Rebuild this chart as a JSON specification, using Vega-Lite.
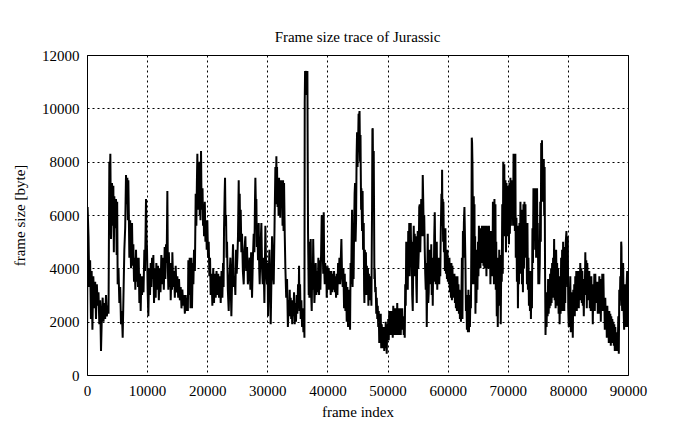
{
"$schema": "https://vega.github.io/schema/vega-lite/v6.json",
"width": 541, "height": 320,
"autosize": {"type": "none"},
"padding": {"left": 87, "top": 55, "right": 67, "bottom": 54},
"background": "white",
"title": {"text": "Frame size trace of Jurassic", "font": "Liberation Serif", "fontSize": 15, "fontWeight": "normal", "color": "black", "offset": 3},
"config": {
  "view": {"stroke": "black", "strokeWidth": 1},
  "axis": {"labelFont": "Liberation Serif", "labelFontSize": 15, "labelColor": "black", "titleFont": "Liberation Serif", "titleFontSize": 15, "titleFontWeight": "normal", "titleColor": "black", "domain": false, "ticks": false, "grid": true, "gridColor": "black", "gridDash": [2, 3], "gridOpacity": 1, "gridWidth": 1, "labelPadding": 8, "labelFlush": false}
},
"data": {"values": [
{"frame":0,"size":500},{"frame":100,"size":6300},{"frame":250,"size":5200},{"frame":388,"size":3300},{"frame":520,"size":4300},{"frame":650,"size":2100},{"frame":777,"size":3900},{"frame":900,"size":1700},{"frame":1050,"size":3700},{"frame":1220,"size":2500},{"frame":1360,"size":3500},{"frame":1498,"size":2100},{"frame":1640,"size":3400},{"frame":1775,"size":2600},{"frame":1910,"size":3100},{"frame":2052,"size":1900},{"frame":2190,"size":2800},{"frame":2330,"size":900},{"frame":2470,"size":2200},{"frame":2607,"size":2900},{"frame":2750,"size":2000},{"frame":2884,"size":2700},{"frame":3020,"size":2100},{"frame":3162,"size":3000},{"frame":3300,"size":2200},{"frame":3439,"size":2600},{"frame":3580,"size":2300},{"frame":3717,"size":8000},{"frame":3800,"size":7200},{"frame":3883,"size":8300},{"frame":3994,"size":5100},{"frame":4160,"size":7200},{"frame":4270,"size":5600},{"frame":4382,"size":7100},{"frame":4465,"size":4600},{"frame":4548,"size":6700},{"frame":4650,"size":5500},{"frame":4826,"size":6600},{"frame":4937,"size":4500},{"frame":5020,"size":6500},{"frame":5103,"size":3400},{"frame":5240,"size":4000},{"frame":5380,"size":2700},{"frame":5520,"size":3300},{"frame":5658,"size":1900},{"frame":5800,"size":2400},{"frame":5935,"size":1400},{"frame":6070,"size":3000},{"frame":6213,"size":4700},{"frame":6350,"size":5500},{"frame":6490,"size":7500},{"frame":6600,"size":6400},{"frame":6712,"size":7400},{"frame":6800,"size":5800},{"frame":6878,"size":7300},{"frame":6960,"size":6000},{"frame":7045,"size":4400},{"frame":7180,"size":5800},{"frame":7322,"size":4000},{"frame":7489,"size":5700},{"frame":7600,"size":4100},{"frame":7711,"size":4900},{"frame":7820,"size":3500},{"frame":7932,"size":4400},{"frame":8040,"size":3200},{"frame":8154,"size":4700},{"frame":8260,"size":3500},{"frame":8376,"size":4400},{"frame":8480,"size":3300},{"frame":8598,"size":4400},{"frame":8710,"size":2700},{"frame":8820,"size":3800},{"frame":8930,"size":2400},{"frame":9042,"size":3700},{"frame":9150,"size":3000},{"frame":9264,"size":3700},{"frame":9400,"size":3100},{"frame":9541,"size":4700},{"frame":9650,"size":3900},{"frame":9760,"size":5600},{"frame":9818,"size":6600},{"frame":9900,"size":5200},{"frame":9985,"size":4700},{"frame":10100,"size":3100},{"frame":10206,"size":2200},{"frame":10340,"size":4000},{"frame":10484,"size":3000},{"frame":10600,"size":4200},{"frame":10706,"size":3300},{"frame":10820,"size":4400},{"frame":10928,"size":3600},{"frame":11040,"size":4500},
{"frame":11149,"size":2700},{"frame":11315,"size":4000},{"frame":11426,"size":2900},{"frame":11537,"size":4200},{"frame":11680,"size":3200},{"frame":11815,"size":4100},{"frame":11950,"size":2800},{"frame":12092,"size":4000},{"frame":12230,"size":3100},{"frame":12369,"size":4500},{"frame":12500,"size":3400},{"frame":12647,"size":4400},{"frame":12780,"size":3200},{"frame":12924,"size":4800},{"frame":13040,"size":3600},{"frame":13146,"size":4900},{"frame":13250,"size":4200},{"frame":13368,"size":6900},{"frame":13450,"size":4000},{"frame":13534,"size":3200},{"frame":13620,"size":4600},{"frame":13750,"size":3300},{"frame":13850,"size":4200},{"frame":13923,"size":2800},{"frame":14060,"size":3900},{"frame":14140,"size":3200},{"frame":14200,"size":4600},{"frame":14340,"size":3300},{"frame":14477,"size":3900},{"frame":14610,"size":2900},{"frame":14755,"size":4100},{"frame":14890,"size":3100},{"frame":15032,"size":3700},{"frame":15170,"size":2900},{"frame":15309,"size":3600},{"frame":15450,"size":2800},{"frame":15587,"size":3300},{"frame":15720,"size":2500},{"frame":15864,"size":3200},{"frame":16000,"size":2600},{"frame":16141,"size":3000},{"frame":16280,"size":2300},{"frame":16419,"size":3000},{"frame":16550,"size":2400},{"frame":16696,"size":2900},{"frame":16780,"size":2400},{"frame":16862,"size":4300},{"frame":16970,"size":3000},{"frame":17084,"size":4400},{"frame":17220,"size":2500},{"frame":17362,"size":4400},{"frame":17470,"size":2500},{"frame":17590,"size":4200},{"frame":17700,"size":3400},{"frame":17805,"size":4700},{"frame":17950,"size":3900},{"frame":18083,"size":6800},{"frame":18194,"size":5600},{"frame":18280,"size":7200},{"frame":18360,"size":8300},{"frame":18450,"size":6200},{"frame":18527,"size":7200},{"frame":18610,"size":6500},{"frame":18693,"size":8000},{"frame":18750,"size":6000},{"frame":18804,"size":7500},{"frame":18880,"size":5800},{"frame":18970,"size":8400},{"frame":19050,"size":6500},{"frame":19137,"size":6200},{"frame":19220,"size":7000},{"frame":19303,"size":5600},{"frame":19390,"size":6400},{"frame":19470,"size":5200},{"frame":19600,"size":6500},{"frame":19700,"size":5000},{"frame":19830,"size":5800},{"frame":19913,"size":4700},{"frame":20020,"size":5800},{"frame":20135,"size":4400},{"frame":20250,"size":5000},{"frame":20357,"size":3700},{"frame":20470,"size":4400},{"frame":20579,"size":3000},{"frame":20720,"size":3800},{"frame":20856,"size":2600},{"frame":21000,"size":4000},{"frame":21133,"size":2700},{"frame":21270,"size":3800},{"frame":21411,"size":2900},{"frame":21550,"size":3900},{"frame":21688,"size":3000},{"frame":21830,"size":3800},{"frame":21965,"size":2900},{"frame":22100,"size":3700},{"frame":22243,"size":2700},{"frame":22380,"size":3900},
{"frame":22520,"size":2900},{"frame":22630,"size":4200},{"frame":22720,"size":3300},{"frame":22797,"size":5500},{"frame":22900,"size":6800},{"frame":22963,"size":7400},{"frame":23050,"size":5600},{"frame":23130,"size":6000},{"frame":23220,"size":4400},{"frame":23296,"size":5000},{"frame":23430,"size":3200},{"frame":23573,"size":2400},{"frame":23700,"size":3600},{"frame":23851,"size":4400},{"frame":23940,"size":3000},{"frame":24017,"size":2200},{"frame":24150,"size":3700},{"frame":24294,"size":4900},{"frame":24420,"size":3300},{"frame":24572,"size":3700},{"frame":24680,"size":3000},{"frame":24794,"size":4700},{"frame":24900,"size":3800},{"frame":25016,"size":4400},{"frame":25120,"size":5200},{"frame":25238,"size":7300},{"frame":25320,"size":5000},{"frame":25404,"size":6800},{"frame":25480,"size":5200},{"frame":25570,"size":6200},{"frame":25680,"size":4600},{"frame":25792,"size":5300},{"frame":25930,"size":3900},{"frame":26070,"size":3400},{"frame":26200,"size":4700},{"frame":26347,"size":5200},{"frame":26480,"size":3900},{"frame":26624,"size":4800},{"frame":26760,"size":3400},{"frame":26902,"size":3900},{"frame":27040,"size":4400},{"frame":27179,"size":3200},{"frame":27300,"size":4600},{"frame":27456,"size":2900},{"frame":27600,"size":4400},{"frame":27734,"size":5300},{"frame":27850,"size":4600},{"frame":27950,"size":6600},{"frame":28011,"size":7400},{"frame":28100,"size":6300},{"frame":28177,"size":6600},{"frame":28260,"size":4800},{"frame":28344,"size":5600},{"frame":28450,"size":4300},{"frame":28566,"size":5700},{"frame":28650,"size":4000},{"frame":28732,"size":3400},{"frame":28870,"size":4800},{"frame":29010,"size":5700},{"frame":29120,"size":4000},{"frame":29231,"size":3400},{"frame":29370,"size":4400},{"frame":29509,"size":2700},{"frame":29600,"size":4200},{"frame":29675,"size":5600},{"frame":29800,"size":4000},{"frame":29952,"size":3400},{"frame":30050,"size":4200},{"frame":30119,"size":2200},{"frame":30230,"size":3700},{"frame":30341,"size":4700},{"frame":30450,"size":3300},{"frame":30563,"size":1900},{"frame":30680,"size":3600},{"frame":30785,"size":5200},{"frame":30900,"size":4000},{"frame":31062,"size":3400},{"frame":31200,"size":5600},{"frame":31339,"size":7800},{"frame":31420,"size":6800},{"frame":31505,"size":8200},{"frame":31560,"size":6400},{"frame":31616,"size":7800},{"frame":31700,"size":6300},{"frame":31783,"size":7300},{"frame":31870,"size":6000},{"frame":31949,"size":7400},{"frame":32010,"size":6000},{"frame":32060,"size":7200},{"frame":32140,"size":5900},{"frame":32227,"size":7300},{"frame":32320,"size":6500},{"frame":32449,"size":7300},{"frame":32530,"size":5600},{"frame":32615,"size":7300},{"frame":32700,"size":5400},{"frame":32782,"size":7200},{"frame":32900,"size":5200},{"frame":33003,"size":4000},{"frame":33140,"size":2900},{"frame":33281,"size":3600},{"frame":33420,"size":1800},{"frame":33558,"size":2800},{"frame":33650,"size":2300},
{"frame":33725,"size":3200},{"frame":33800,"size":2200},{"frame":33890,"size":2900},{"frame":33970,"size":2100},{"frame":34056,"size":2700},{"frame":34140,"size":1900},{"frame":34223,"size":2800},{"frame":34330,"size":2200},{"frame":34445,"size":3100},{"frame":34550,"size":1900},{"frame":34667,"size":2700},{"frame":34770,"size":2000},{"frame":34888,"size":3000},{"frame":35000,"size":2300},{"frame":35110,"size":3400},{"frame":35200,"size":2500},{"frame":35277,"size":4100},{"frame":35360,"size":2400},{"frame":35443,"size":3400},{"frame":35550,"size":2100},{"frame":35665,"size":2800},{"frame":35780,"size":1800},{"frame":35887,"size":2500},{"frame":36000,"size":1600},{"frame":36109,"size":2200},{"frame":36170,"size":1400},{"frame":36220,"size":10200},{"frame":36280,"size":11400},{"frame":36331,"size":11000},{"frame":36400,"size":11300},{"frame":36497,"size":11400},{"frame":36560,"size":10500},{"frame":36664,"size":11400},{"frame":36720,"size":8000},{"frame":36774,"size":5300},{"frame":36885,"size":3000},{"frame":36950,"size":5000},{"frame":36996,"size":2900},{"frame":37100,"size":4200},{"frame":37218,"size":5100},{"frame":37300,"size":3000},{"frame":37385,"size":2400},{"frame":37470,"size":4200},{"frame":37551,"size":3200},{"frame":37630,"size":5100},{"frame":37717,"size":4000},{"frame":37830,"size":2700},{"frame":37939,"size":3300},{"frame":38050,"size":4200},{"frame":38161,"size":3000},{"frame":38270,"size":3900},{"frame":38383,"size":3100},{"frame":38490,"size":4400},{"frame":38605,"size":3000},{"frame":38710,"size":4300},{"frame":38827,"size":3200},{"frame":38940,"size":4500},{"frame":39049,"size":6000},{"frame":39130,"size":4300},{"frame":39215,"size":4700},{"frame":39300,"size":3800},{"frame":39381,"size":6100},{"frame":39460,"size":4000},{"frame":39548,"size":3400},{"frame":39630,"size":4200},{"frame":39714,"size":3600},{"frame":39800,"size":4000},{"frame":39881,"size":2900},{"frame":40000,"size":4100},{"frame":40103,"size":3200},{"frame":40210,"size":4000},{"frame":40324,"size":3200},{"frame":40430,"size":3900},{"frame":40546,"size":3000},{"frame":40650,"size":3900},{"frame":40768,"size":3100},{"frame":40880,"size":3800},{"frame":40990,"size":3200},{"frame":41100,"size":3900},{"frame":41212,"size":3100},{"frame":41320,"size":3700},{"frame":41434,"size":2900},{"frame":41540,"size":3800},{"frame":41656,"size":3000},{"frame":41770,"size":4200},{"frame":41878,"size":3400},{"frame":41990,"size":4400},{"frame":42100,"size":3400},{"frame":42200,"size":4200},{"frame":42321,"size":5100},{"frame":42430,"size":3700},{"frame":42543,"size":3300},{"frame":42650,"size":4000},{"frame":42765,"size":2500},{"frame":42880,"size":3800},{"frame":42987,"size":2400},{"frame":43100,"size":3500},{"frame":43209,"size":2000},{"frame":43320,"size":3300},{"frame":43431,"size":1800},{"frame":43520,"size":3200},{"frame":43597,"size":2100},{"frame":43680,"size":3000},{"frame":43764,"size":1700},{"frame":43850,"size":4200},{"frame":43930,"size":3400},{"frame":44000,"size":4600},{"frame":44097,"size":6200},{"frame":44180,"size":3300},{"frame":44263,"size":4400},{"frame":44350,"size":3600},{"frame":44429,"size":5400},{"frame":44520,"size":6800},{"frame":44596,"size":7200},{"frame":44680,"size":5000},{"frame":44762,"size":5800},{"frame":44850,"size":8200},{"frame":44929,"size":9100},{"frame":45010,"size":7800},{"frame":45095,"size":8600},{"frame":45180,"size":9800},{"frame":45261,"size":9700},{"frame":45340,"size":9900},{"frame":45428,"size":8000},
{"frame":45500,"size":9000},{"frame":45538,"size":7800},{"frame":45600,"size":6200},{"frame":45649,"size":7000},{"frame":45760,"size":5400},{"frame":45850,"size":6900},{"frame":45926,"size":4700},{"frame":46037,"size":5700},{"frame":46100,"size":3200},{"frame":46148,"size":2700},{"frame":46230,"size":4700},{"frame":46314,"size":3600},{"frame":46400,"size":4600},{"frame":46481,"size":3000},{"frame":46560,"size":4100},{"frame":46647,"size":3200},{"frame":46730,"size":4000},{"frame":46814,"size":2600},{"frame":46900,"size":3800},{"frame":46980,"size":2900},{"frame":47060,"size":3700},{"frame":47146,"size":2800},{"frame":47230,"size":3400},{"frame":47313,"size":2600},{"frame":47380,"size":5000},{"frame":47424,"size":6300},{"frame":47480,"size":9200},{"frame":47535,"size":9250},{"frame":47590,"size":7500},{"frame":47646,"size":8200},{"frame":47700,"size":8400},{"frame":47757,"size":6000},{"frame":47810,"size":3600},{"frame":47868,"size":4000},{"frame":47950,"size":3100},{"frame":48034,"size":3300},{"frame":48120,"size":2300},{"frame":48200,"size":2900},{"frame":48290,"size":2100},{"frame":48367,"size":2600},{"frame":48450,"size":1800},{"frame":48533,"size":2400},{"frame":48620,"size":1200},{"frame":48700,"size":2000},{"frame":48780,"size":1400},{"frame":48866,"size":2300},{"frame":48950,"size":1000},{"frame":49033,"size":1900},{"frame":49110,"size":1200},{"frame":49199,"size":1800},{"frame":49280,"size":1000},{"frame":49365,"size":1700},{"frame":49450,"size":900},{"frame":49532,"size":1800},{"frame":49610,"size":1000},{"frame":49698,"size":2000},{"frame":49780,"size":1300},{"frame":49864,"size":800},{"frame":49950,"size":1900},{"frame":50031,"size":1300},{"frame":50110,"size":2100},{"frame":50197,"size":1300},{"frame":50280,"size":2400},{"frame":50364,"size":1600},{"frame":50450,"size":2300},{"frame":50530,"size":1500},{"frame":50610,"size":2400},{"frame":50697,"size":1700},{"frame":50780,"size":2300},{"frame":50863,"size":1400},{"frame":50950,"size":2600},{"frame":51029,"size":1700},{"frame":51110,"size":2400},{"frame":51196,"size":1500},{"frame":51280,"size":2500},{"frame":51362,"size":1600},{"frame":51450,"size":2300},{"frame":51529,"size":1500},{"frame":51610,"size":2700},{"frame":51695,"size":1600},{"frame":51780,"size":2500},{"frame":51861,"size":1500},{"frame":51950,"size":2400},{"frame":52028,"size":1600},{"frame":52110,"size":2500},{"frame":52194,"size":1500},{"frame":52280,"size":2300},{"frame":52361,"size":1800},{"frame":52440,"size":2500},{"frame":52527,"size":1700},{"frame":52610,"size":2200},{"frame":52693,"size":1500},{"frame":52780,"size":2000},{"frame":52860,"size":1400},{"frame":52940,"size":3400},{"frame":53026,"size":2600},{"frame":53110,"size":5000},{"frame":53193,"size":3600},{"frame":53280,"size":4500},{"frame":53359,"size":3200},{"frame":53440,"size":5400},{"frame":53526,"size":3900},{"frame":53610,"size":5700},{"frame":53692,"size":3700},{"frame":53780,"size":4600},{"frame":53858,"size":5700},{"frame":53940,"size":4300},{"frame":54025,"size":5000},{"frame":54100,"size":3000},{"frame":54191,"size":2400},{"frame":54280,"size":4400},{"frame":54357,"size":5600},{"frame":54440,"size":3700},{"frame":54524,"size":5300},{"frame":54610,"size":4100},{"frame":54690,"size":5200},{"frame":54780,"size":3400},{"frame":54857,"size":2700},{"frame":54940,"size":4600},{"frame":55023,"size":5400},{"frame":55110,"size":4000},{"frame":55190,"size":4600},{"frame":55270,"size":6300},{"frame":55356,"size":6400},{"frame":55440,"size":4600},{"frame":55522,"size":5600},{"frame":55600,"size":6600},{"frame":55689,"size":6500},{"frame":55770,"size":5200},{"frame":55855,"size":7500},{"frame":55940,"size":6500},{"frame":56022,"size":5200},{"frame":56100,"size":6000},{"frame":56188,"size":4700},{"frame":56270,"size":3800},{"frame":56355,"size":3200},{"frame":56440,"size":4200},{"frame":56521,"size":1800},{"frame":56600,"size":3500},{"frame":56687,"size":5300},
{"frame":56770,"size":2700},{"frame":56854,"size":3100},{"frame":56940,"size":4700},{"frame":57020,"size":3600},{"frame":57100,"size":4700},{"frame":57187,"size":3400},{"frame":57270,"size":4900},{"frame":57353,"size":3000},{"frame":57440,"size":4200},{"frame":57519,"size":2600},{"frame":57600,"size":4400},{"frame":57686,"size":3500},{"frame":57770,"size":5200},{"frame":57852,"size":6100},{"frame":57930,"size":4400},{"frame":58019,"size":3400},{"frame":58100,"size":4600},{"frame":58185,"size":5000},{"frame":58270,"size":3200},{"frame":58351,"size":4300},{"frame":58440,"size":3700},{"frame":58518,"size":4400},{"frame":58600,"size":3400},{"frame":58684,"size":4300},{"frame":58770,"size":3700},{"frame":58851,"size":5300},{"frame":58962,"size":6800},{"frame":59020,"size":5600},{"frame":59073,"size":7700},{"frame":59130,"size":5800},{"frame":59184,"size":6600},{"frame":59240,"size":5000},{"frame":59294,"size":6500},{"frame":59380,"size":4600},{"frame":59461,"size":5400},{"frame":59540,"size":3900},{"frame":59627,"size":5500},{"frame":59710,"size":3800},{"frame":59794,"size":4600},{"frame":59880,"size":3600},{"frame":59960,"size":4700},{"frame":60040,"size":3500},{"frame":60126,"size":4400},{"frame":60210,"size":3400},{"frame":60293,"size":4400},{"frame":60380,"size":3100},{"frame":60459,"size":4200},{"frame":60540,"size":2900},{"frame":60626,"size":4200},{"frame":60710,"size":2800},{"frame":60792,"size":4100},{"frame":60870,"size":2900},{"frame":60958,"size":3800},{"frame":61040,"size":3000},{"frame":61125,"size":3800},{"frame":61210,"size":2700},{"frame":61291,"size":3700},{"frame":61370,"size":2500},{"frame":61458,"size":3500},{"frame":61540,"size":2400},{"frame":61624,"size":3700},{"frame":61710,"size":2400},{"frame":61791,"size":3400},{"frame":61870,"size":2300},{"frame":61957,"size":3200},{"frame":62040,"size":2100},{"frame":62123,"size":3100},{"frame":62210,"size":2000},{"frame":62290,"size":3000},{"frame":62370,"size":4400},{"frame":62456,"size":2100},{"frame":62540,"size":5400},{"frame":62622,"size":4400},{"frame":62700,"size":5700},{"frame":62789,"size":6300},{"frame":62870,"size":5300},{"frame":62955,"size":4200},{"frame":63040,"size":2400},{"frame":63122,"size":3000},{"frame":63200,"size":1700},{"frame":63288,"size":2700},{"frame":63370,"size":1600},{"frame":63454,"size":3200},{"frame":63540,"size":1600},{"frame":63621,"size":2800},{"frame":63700,"size":1800},{"frame":63787,"size":3000},{"frame":63870,"size":2500},{"frame":63954,"size":5400},{"frame":64010,"size":8900},{"frame":64065,"size":8700},{"frame":64120,"size":8000},{"frame":64176,"size":6400},{"frame":64230,"size":3400},{"frame":64287,"size":5000},{"frame":64340,"size":6700},{"frame":64398,"size":4200},{"frame":64460,"size":6400},{"frame":64509,"size":3400},{"frame":64570,"size":5200},{"frame":64620,"size":2300},{"frame":64700,"size":4400},{"frame":64786,"size":2700},{"frame":64870,"size":4700},{"frame":64952,"size":3200},{"frame":65040,"size":5000},{"frame":65119,"size":3700},{"frame":65200,"size":5600},{"frame":65285,"size":4200},{"frame":65370,"size":5500},{"frame":65452,"size":4000},{"frame":65530,"size":5300},{"frame":65618,"size":4200},{"frame":65700,"size":5600},{"frame":65784,"size":4500},{"frame":65870,"size":5600},{"frame":65951,"size":4100},{"frame":66030,"size":5100},{"frame":66117,"size":4000},{"frame":66200,"size":5600},{"frame":66284,"size":4200},{"frame":66370,"size":5100},{"frame":66450,"size":3700},{"frame":66530,"size":5600},{"frame":66616,"size":4000},{"frame":66700,"size":5300},{"frame":66783,"size":4000},{"frame":66870,"size":5600},{"frame":66949,"size":4300},{"frame":67030,"size":5000},{"frame":67116,"size":3400},{"frame":67200,"size":5400},{"frame":67282,"size":4100},{"frame":67370,"size":5100},{"frame":67448,"size":3700},{"frame":67530,"size":6500},{"frame":67615,"size":4800},{"frame":67700,"size":3400},{"frame":67781,"size":6600},{"frame":67860,"size":4000},{"frame":67948,"size":6400},
{"frame":68002,"size":3200},{"frame":68080,"size":5000},{"frame":68169,"size":2200},{"frame":68250,"size":4400},{"frame":68335,"size":1800},{"frame":68420,"size":4000},{"frame":68502,"size":2600},{"frame":68580,"size":4700},{"frame":68668,"size":2900},{"frame":68750,"size":4200},{"frame":68834,"size":1900},{"frame":68920,"size":4500},{"frame":69001,"size":3500},{"frame":69080,"size":6400},{"frame":69167,"size":3800},{"frame":69250,"size":8000},{"frame":69334,"size":5600},{"frame":69420,"size":7900},{"frame":69500,"size":5200},{"frame":69611,"size":7300},{"frame":69700,"size":4600},{"frame":69780,"size":7200},{"frame":69860,"size":5200},{"frame":69944,"size":7100},{"frame":70030,"size":5600},{"frame":70110,"size":6600},{"frame":70200,"size":4900},{"frame":70277,"size":7200},{"frame":70350,"size":5300},{"frame":70440,"size":7400},{"frame":70520,"size":5600},{"frame":70600,"size":7300},{"frame":70700,"size":6000},{"frame":70780,"size":7100},{"frame":70887,"size":5600},{"frame":70960,"size":8300},{"frame":71040,"size":6000},{"frame":71109,"size":8200},{"frame":71180,"size":5400},{"frame":71260,"size":8300},{"frame":71330,"size":4400},{"frame":71441,"size":5900},{"frame":71520,"size":3500},{"frame":71608,"size":5600},{"frame":71690,"size":2500},{"frame":71774,"size":4700},{"frame":71860,"size":3400},{"frame":71941,"size":5700},{"frame":72030,"size":3800},{"frame":72107,"size":6500},{"frame":72190,"size":4400},{"frame":72273,"size":6200},{"frame":72360,"size":3400},{"frame":72440,"size":5000},{"frame":72520,"size":3100},{"frame":72606,"size":6400},{"frame":72690,"size":4000},{"frame":72773,"size":6500},{"frame":72850,"size":4400},{"frame":72939,"size":6400},{"frame":73020,"size":4600},{"frame":73105,"size":5600},{"frame":73190,"size":3400},{"frame":73272,"size":5700},{"frame":73350,"size":3200},{"frame":73438,"size":4400},{"frame":73520,"size":2600},{"frame":73605,"size":3900},{"frame":73690,"size":2400},{"frame":73771,"size":3700},{"frame":73850,"size":2100},{"frame":73937,"size":3900},{"frame":74020,"size":2500},{"frame":74104,"size":5500},{"frame":74190,"size":4200},{"frame":74270,"size":7000},{"frame":74381,"size":5200},{"frame":74492,"size":7000},{"frame":74560,"size":4700},{"frame":74650,"size":7000},{"frame":74714,"size":4400},{"frame":74800,"size":6000},{"frame":74870,"size":7000},{"frame":74950,"size":4400},{"frame":74991,"size":5700},{"frame":75080,"size":3400},{"frame":75158,"size":4600},{"frame":75240,"size":3400},{"frame":75324,"size":4200},{"frame":75400,"size":6500},{"frame":75491,"size":5000},{"frame":75560,"size":8700},{"frame":75620,"size":7000},{"frame":75690,"size":8800},{"frame":75768,"size":6500},{"frame":75840,"size":8000},{"frame":75900,"size":7500},{"frame":75990,"size":8100},{"frame":76060,"size":6000},{"frame":76130,"size":7800},{"frame":76200,"size":4000},{"frame":76280,"size":1500},{"frame":76378,"size":2900},{"frame":76460,"size":1800},{"frame":76545,"size":3100},{"frame":76630,"size":2200},{"frame":76711,"size":3600},{"frame":76800,"size":2300},{"frame":76878,"size":3400},{"frame":76960,"size":2500},{"frame":77044,"size":3800},{"frame":77130,"size":2600},{"frame":77210,"size":4000},{"frame":77290,"size":2700},{"frame":77377,"size":4200},{"frame":77460,"size":2900},{"frame":77543,"size":4400},{"frame":77620,"size":3100},{"frame":77710,"size":5100},{"frame":77800,"size":2800},{"frame":77876,"size":4400},{"frame":77960,"size":2500},{"frame":78043,"size":4700},{"frame":78130,"size":3300},{"frame":78209,"size":4200},{"frame":78290,"size":2600},{"frame":78375,"size":4000},{"frame":78460,"size":2300},{"frame":78542,"size":3700},{"frame":78620,"size":1900},{"frame":78708,"size":3500},{"frame":78790,"size":2300},{"frame":78875,"size":4400},{"frame":78960,"size":2700},{"frame":79041,"size":4700},{"frame":79120,"size":2400},{"frame":79207,"size":5000},{"frame":79290,"size":2900},
{"frame":79317,"size":4800},{"frame":79400,"size":2400},{"frame":79484,"size":4500},{"frame":79560,"size":2700},{"frame":79650,"size":5000},{"frame":79761,"size":5400},{"frame":79820,"size":3400},{"frame":79872,"size":4600},{"frame":79930,"size":3300},{"frame":79983,"size":5200},{"frame":80060,"size":2500},{"frame":80149,"size":1800},{"frame":80230,"size":3300},{"frame":80315,"size":2300},{"frame":80400,"size":3700},{"frame":80482,"size":1600},{"frame":80560,"size":3100},{"frame":80649,"size":2000},{"frame":80730,"size":3000},{"frame":80815,"size":1400},{"frame":80900,"size":3200},{"frame":80981,"size":2200},{"frame":81060,"size":3400},{"frame":81148,"size":2200},{"frame":81230,"size":3700},{"frame":81314,"size":2500},{"frame":81400,"size":3900},{"frame":81481,"size":2400},{"frame":81560,"size":3600},{"frame":81647,"size":2600},{"frame":81730,"size":3900},{"frame":81814,"size":2500},{"frame":81900,"size":3800},{"frame":81980,"size":2900},{"frame":82060,"size":4200},{"frame":82146,"size":2800},{"frame":82230,"size":4000},{"frame":82313,"size":2700},{"frame":82400,"size":3900},{"frame":82479,"size":2600},{"frame":82560,"size":3500},{"frame":82646,"size":2200},{"frame":82730,"size":3600},{"frame":82812,"size":3000},{"frame":82900,"size":4600},{"frame":82978,"size":3100},{"frame":83060,"size":4300},{"frame":83145,"size":2500},{"frame":83230,"size":4200},{"frame":83311,"size":2900},{"frame":83400,"size":3900},{"frame":83478,"size":2800},{"frame":83560,"size":3900},{"frame":83644,"size":2500},{"frame":83730,"size":3700},{"frame":83810,"size":2400},{"frame":83900,"size":3700},{"frame":83977,"size":2500},{"frame":84060,"size":3400},{"frame":84143,"size":1900},{"frame":84230,"size":3400},{"frame":84310,"size":2500},{"frame":84400,"size":3800},{"frame":84476,"size":2400},{"frame":84560,"size":3800},{"frame":84642,"size":2800},{"frame":84730,"size":3400},{"frame":84809,"size":2700},{"frame":84900,"size":3500},{"frame":84975,"size":2300},{"frame":85060,"size":3400},{"frame":85142,"size":2300},{"frame":85230,"size":3700},{"frame":85308,"size":2700},{"frame":85400,"size":3500},{"frame":85475,"size":2000},{"frame":85560,"size":3600},{"frame":85641,"size":2500},{"frame":85720,"size":3800},{"frame":85807,"size":2400},{"frame":85900,"size":3800},{"frame":85974,"size":2800},{"frame":86060,"size":2900},{"frame":86140,"size":1700},{"frame":86220,"size":2900},{"frame":86307,"size":2000},{"frame":86390,"size":2600},{"frame":86473,"size":1400},{"frame":86560,"size":2600},{"frame":86639,"size":1800},{"frame":86720,"size":2300},{"frame":86806,"size":1200},{"frame":86890,"size":2400},{"frame":86972,"size":1500},{"frame":87060,"size":2300},{"frame":87139,"size":1100},{"frame":87220,"size":2200},{"frame":87305,"size":1300},{"frame":87390,"size":2100},{"frame":87471,"size":1200},{"frame":87560,"size":2000},{"frame":87638,"size":1100},{"frame":87720,"size":1900},{"frame":87804,"size":900},{"frame":87890,"size":1800},{"frame":87971,"size":1000},{"frame":88050,"size":1600},{"frame":88137,"size":900},{"frame":88220,"size":1500},{"frame":88304,"size":1100},{"frame":88390,"size":2200},{"frame":88470,"size":800},{"frame":88550,"size":3200},{"frame":88636,"size":2600},{"frame":88720,"size":3700},{"frame":88803,"size":2800},{"frame":88870,"size":5000},{"frame":88914,"size":4800},{"frame":88970,"size":3000},{"frame":89025,"size":2400},{"frame":89100,"size":3800},{"frame":89191,"size":4200},{"frame":89270,"size":2500},{"frame":89357,"size":1700},{"frame":89440,"size":3200},{"frame":89524,"size":3400},{"frame":89600,"size":2300},{"frame":89690,"size":1800},{"frame":89780,"size":3400},{"frame":89857,"size":3900},{"frame":89940,"size":1800},{"frame":90000,"size":3000}
]},
"mark": {"type": "line", "color": "black", "strokeWidth": 2, "clip": true},
"encoding": {
  "x": {"field": "frame", "type": "quantitative", "scale": {"domain": [0, 90000], "nice": false}, "axis": {"title": "frame index", "values": [0, 10000, 20000, 30000, 40000, 50000, 60000, 70000, 80000, 90000], "format": "d", "titlePadding": 6, "labelFlush": false, "labelFont": "Liberation Serif", "labelFontSize": 15, "titleFont": "Liberation Serif"}},
  "y": {"field": "size", "type": "quantitative", "scale": {"domain": [0, 12000], "nice": false}, "axis": {"title": "frame size [byte]", "values": [0, 2000, 4000, 6000, 8000, 10000, 12000], "format": "d", "titlePadding": 14, "labelFont": "Liberation Serif", "labelFontSize": 15, "titleFont": "Liberation Serif"}}
}
}
